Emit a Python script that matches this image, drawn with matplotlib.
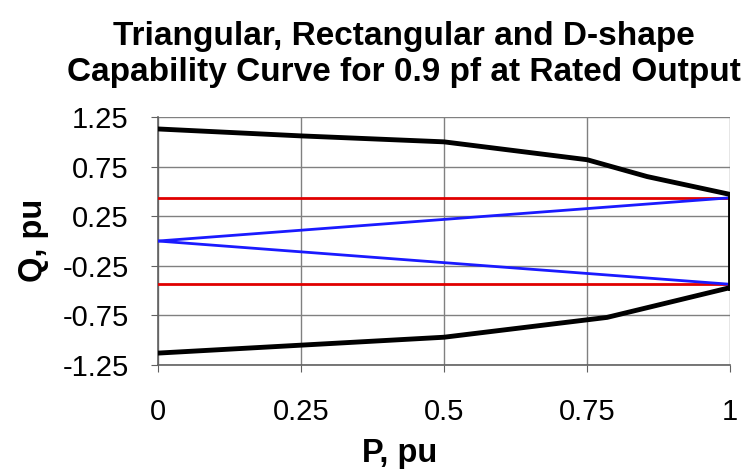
import matplotlib
matplotlib.use("Agg")
import matplotlib.pyplot as plt

plt.rcParams['font.family'] = ['Liberation Sans', 'DejaVu Sans']

# D-shape capability curve (upper and lower limbs)
d_p_upper = [0, 0.25, 0.5, 0.75, 0.855, 1.0]
d_q_upper = [1.13, 1.06, 1.0, 0.82, 0.65, 0.47]
d_p_lower = [0, 0.25, 0.5, 0.785, 1.0]
d_q_lower = [-1.13, -1.05, -0.97, -0.77, -0.47]

# rectangular limits
rect_p = [0, 1.0]
rect_q = 0.436

# triangular limits
tri_p = [0, 1.0]
tri_q_up = [0, 0.436]
tri_q_dn = [0, -0.436]

xticks = [0, 0.25, 0.5, 0.75, 1]
xtick_labels = ['0', '0.25', '0.5', '0.75', '1']
yticks = [1.25, 0.75, 0.25, -0.25, -0.75, -1.25]
ytick_labels = ['1.25', '0.75', '0.25', '-0.25', '-0.75', '-1.25']

fig = plt.figure(figsize=(7.46, 4.72), dpi=100)
ax = fig.add_axes([0.2118, 0.2267, 0.7668, 0.5253])

ax.plot(rect_p, [rect_q, rect_q], color='#e00000', lw=2, zorder=3)
ax.plot(rect_p, [-rect_q, -rect_q], color='#e00000', lw=2, zorder=3)
ax.plot(tri_p, tri_q_up, color='#1a1aff', lw=2, zorder=4)
ax.plot(tri_p, tri_q_dn, color='#1a1aff', lw=2, zorder=4)
ax.plot(d_p_upper, d_q_upper, color='black', lw=3.5, zorder=5, solid_joinstyle='round')
ax.plot(d_p_lower, d_q_lower, color='black', lw=3.5, zorder=5, solid_joinstyle='round')
ax.plot([1.0, 1.0], [d_q_upper[-1], d_q_lower[-1]], color='black', lw=3.5, zorder=5)

ax.set_xlim(0, 1)
ax.set_ylim(-1.25, 1.25)
ax.set_xticks(xticks)
ax.set_xticklabels(xtick_labels)
ax.set_yticks(yticks)
ax.set_yticklabels(ytick_labels)
ax.grid(True, color='#808080', lw=1)
ax.set_axisbelow(True)

for s in ['top', 'right']:
    ax.spines[s].set_visible(False)
for s in ['left', 'bottom']:
    ax.spines[s].set_color('#606060')
    ax.spines[s].set_linewidth(1.2)
ax.tick_params(axis='both', direction='out', length=5, color='#606060', labelsize=21)
ax.tick_params(axis='x', pad=19)
ax.tick_params(axis='y', pad=16)

fig.text(0.542, 0.905, 'Triangular, Rectangular and D-shape', ha='center', va='baseline',
         fontsize=24, fontweight='bold')
fig.text(0.542, 0.828, 'Capability Curve for 0.9 pf at Rated Output', ha='center',
         va='baseline', fontsize=24, fontweight='bold')
fig.text(0.536, 0.04, 'P, pu', ha='center', va='center', fontsize=23.5, fontweight='bold')
fig.text(0.045, 0.49, 'Q, pu', ha='center', va='center', rotation=90, fontsize=23.5,
         fontweight='bold')

fig.savefig('out.png', dpi=100)
